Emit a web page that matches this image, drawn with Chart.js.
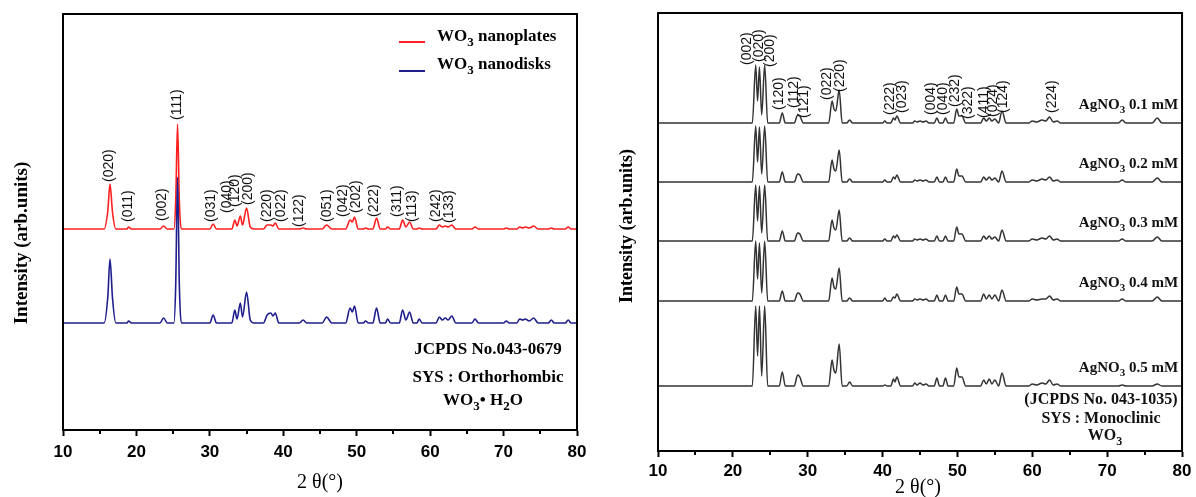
<!DOCTYPE html>
<html lang="en">
<head>
  <meta charset="UTF-8">
  <title>XRD patterns of WO3</title>
  <script src="https://cdn.jsdelivr.net/npm/chart.js"></script>
  <style>
    body { margin: 0; background: #fff; width: 1196px; height: 497px; position: relative; overflow: hidden; }
    canvas { position: absolute; top: 0; }
  </style>
</head>
<body>
  <canvas id="left" width="600" height="497" style="left:0"></canvas>
  <canvas id="right" width="596" height="497" style="left:600px"></canvas>

  <script>
    // ---- left panel: WO3.H2O nanoplates / nanodisks ----
    const leftTheta = [10, 15.6, 16.1, 16.4, 16.75, 17.2, 18.7, 18.95, 19.3, 23.2, 23.7, 24.2,
      25.1, 25.35, 25.6, 25.85, 26.2, 30.0, 30.45, 30.9, 33.0, 33.4, 33.7, 34.15, 34.45, 35.0, 35.5, 36.0,
      37.3, 37.8, 38.3, 38.6, 38.9, 39.4, 42.2, 42.7, 43.2, 45.3, 45.9, 46.6, 48.5, 49.1, 49.4, 49.7, 50.2,
      50.9, 51.2, 51.6, 52.2, 52.7, 53.2, 53.9, 54.2, 54.6, 55.8, 56.25, 56.7, 57.2, 57.7, 58.2, 58.5, 58.9,
      60.8, 61.25, 61.65, 62.05, 62.45, 62.95, 63.5, 65.7, 66.1, 66.6, 70.0, 70.35, 70.8,
      71.8, 72.2, 72.6, 72.95, 73.5, 74.1, 74.7, 76.1, 76.5, 76.9, 78.4, 78.8, 79.2, 80];
    const nanoplates = [0, 0, 18, 45, 16, 0, 0, 2, 0, 0, 3, 0, 0, 28, 105, 26, 0, 0, 5, 0,
      0, 9, 3, 13, 4, 21, 2, 0, 0, 4, 4, 3, 6, 0, 0, 1, 0, 0, 4, 0, 0, 9, 7, 12, 0,
      0, 1, 0, 0, 11, 0, 0, 2, 0, 0, 9, 2, 7, 0, 0, 1, 0, 0, 4, 2, 3, 2, 4, 0, 0, 2, 0, 0, 1, 0,
      0, 2, 1, 2, 1, 3, 0, 0, 1, 0, 0, 2, 0, 0];
    const nanodisks = [0, 0, 26, 64, 24, 0, 0, 2, 0, 0, 5, 0, 0, 38, 146, 36, 0, 0, 8, 0,
      0, 13, 4, 20, 6, 31, 3, 0, 0, 8, 10, 7, 10, 0, 0, 3, 0, 0, 6, 0, 0, 15, 11, 17, 0,
      0, 2, 0, 0, 15, 0, 0, 4, 0, 0, 13, 3, 11, 0, 0, 4, 0, 0, 6, 3, 5, 3, 7, 0, 0, 4, 0, 0, 2, 0,
      0, 4, 3, 4, 2, 5, 0, 0, 3, 0, 0, 3, 0, 0];
    const leftOffsets = [201, 107];
    const leftHkl = ['(020)', '(011)', '(002)', '(111)', '(031)', '(040)', '(120)', '(200)', '(220)', '(022)',
      '(122)', '(051)', '(042)', '(202)', '(222)', '(311)', '(113)', '(242)', '(133)'];
    const leftHklPos = [16.33, 18.93, 23.48, 25.48, 30.16, 32.33, 33.49, 35.19, 37.78, 39.69,
      42.22, 46.02, 48.2, 49.86, 52.35, 55.49, 57.53, 60.8, 62.65];
    const leftHklBase = [248, 208, 209, 310, 208, 217, 223, 225, 208, 208,
      203, 208, 213, 217, 213, 213, 208, 208, 207];

    // ---- right panel: monoclinic WO3 with AgNO3 ----
    const rightTheta = [10, 22.6, 23.05, 23.3, 23.55, 23.85, 24.25, 24.65, 26.2, 26.6, 27.0,
      28.2, 28.65, 28.95, 29.4, 32.8, 33.25, 33.5, 33.75, 34.2, 34.6, 35.2, 35.6, 36.0,
      40.0, 40.3, 40.6, 41.1, 41.45, 41.65, 41.9, 42.4, 44.0, 44.3, 44.6, 45.0, 45.4, 45.8, 46.2,
      46.9, 47.25, 47.6, 48.05, 48.4, 48.75, 49.5, 49.9, 50.2, 50.6, 51.1,
      53.1, 53.5, 53.85, 54.25, 54.6, 55.0, 55.5, 55.95, 56.5,
      59.5, 60.0, 60.6, 61.3, 61.8, 62.3, 62.8, 63.3, 63.8, 71.5, 72.0, 72.5, 76.0, 76.7, 77.3, 80];
    const ag01 = [0, 0, 58, 22, 56, 8, 58, 0, 0, 10, 0, 0, 8, 7, 0, 0, 22, 14, 12, 33, 0, 0, 3, 0,
      0, 2, 0, 0, 5, 3, 7, 0, 0, 2, 1, 2, 1, 2, 0, 0, 5, 0, 0, 5, 0, 0, 14, 7, 7, 0,
      0, 5, 2, 5, 2, 4, 0, 12, 0, 0, 2, 1, 3, 2, 6, 1, 2, 0, 0, 3, 0, 0, 5, 0, 0];
    const ag02 = [0, 0, 56, 20, 55, 8, 56, 0, 0, 10, 0, 0, 8, 7, 0, 0, 22, 13, 11, 32, 0, 0, 3, 0,
      0, 2, 0, 0, 5, 3, 7, 0, 0, 2, 1, 2, 1, 2, 0, 0, 5, 0, 0, 5, 0, 0, 13, 6, 6, 0,
      0, 5, 2, 5, 2, 4, 0, 11, 0, 0, 2, 1, 3, 2, 5, 1, 2, 0, 0, 2, 0, 0, 4, 0, 0];
    const ag03 = [0, 0, 56, 20, 55, 8, 56, 0, 0, 10, 0, 0, 8, 7, 0, 0, 21, 13, 11, 31, 0, 0, 3, 0,
      0, 2, 0, 0, 5, 3, 6, 0, 0, 2, 1, 2, 1, 2, 0, 0, 5, 0, 0, 5, 0, 0, 14, 7, 7, 0,
      0, 5, 2, 5, 2, 4, 0, 11, 0, 0, 2, 1, 3, 2, 5, 1, 2, 0, 0, 2, 0, 0, 4, 0, 0];
    const ag04 = [0, 0, 60, 22, 58, 8, 60, 0, 0, 10, 0, 0, 8, 7, 0, 0, 23, 14, 12, 33, 0, 0, 3, 0,
      0, 3, 0, 0, 4, 3, 7, 0, 0, 2, 1, 2, 1, 2, 0, 0, 6, 0, 0, 6, 0, 0, 14, 7, 7, 0,
      0, 7, 2, 6, 2, 6, 0, 11, 0, 0, 2, 1, 2, 2, 5, 1, 2, 0, 0, 2, 0, 0, 4, 0, 0];
    const ag05 = [0, 0, 80, 30, 80, 10, 80, 0, 0, 14, 0, 0, 11, 9, 0, 0, 26, 16, 13, 42, 0, 0, 4, 0,
      0, 1, 0, 0, 7, 4, 9, 0, 0, 3, 1, 3, 1, 2, 0, 0, 8, 0, 0, 8, 0, 0, 18, 9, 9, 0,
      0, 6, 2, 7, 2, 6, 0, 13, 0, 0, 2, 1, 3, 2, 6, 1, 2, 0, 0, 1, 0, 0, 2, 0, 0];
    const agSeries = [ag01, ag02, ag03, ag04, ag05];
    const agNames = [' 0.1 mM', ' 0.2 mM', ' 0.3 mM', ' 0.4 mM', ' 0.5 mM'];
    const rightOffsets = [328, 269, 210, 150, 65];
    const rightHkl = ['(002)', '(020)', '(200)', '(120)', '(112)', '(121)', '(022)', '(220)', '(222)',
      '(023)', '(004)', '(040)', '(232)', '(322)', '(411)', '(024)', '(124)', '(224)'];
    const rightHklPos = [21.95, 23.5, 24.95, 26.13, 28.13, 29.47, 32.53, 34.27, 41.07,
      42.6, 46.53, 48.13, 49.73, 51.47, 53.6, 54.8, 56.13, 62.63];
    const rightHklBase = [386, 389, 384, 341, 343, 333, 351, 359, 336,
      338, 336, 336, 344, 332, 333, 334, 338, 338];

    const serif = '"Liberation Serif", "Times New Roman", serif';
    const sans = '"Liberation Sans", Arial, sans-serif';

    function series(theta, counts, offset) {
      return theta.map((t, i) => ({ x: t, y: offset + counts[i] }));
    }

    // text with subscripts: parts = [[text, isSub], ...]
    function rich(ctx, parts, x, y, size, align, weight) {
      const w = weight || 'bold';
      const fonts = parts.map(p => w + ' ' + (p[1] ? Math.round(size * 0.75) : size) + 'px ' + serif);
      const widths = parts.map((p, i) => { ctx.font = fonts[i]; return ctx.measureText(p[0]).width; });
      const total = widths.reduce((a, b) => a + b, 0);
      let cx = align === 'right' ? x - total : align === 'center' ? x - total / 2 : x;
      ctx.textAlign = 'left';
      ctx.textBaseline = 'middle';
      parts.forEach((p, i) => {
        ctx.font = fonts[i];
        ctx.fillText(p[0], cx, p[1] ? y + size * 0.35 : y);
        cx += widths[i];
      });
    }

    function vtext(ctx, text, x, y, font) {
      ctx.save();
      ctx.translate(x, y);
      ctx.rotate(-Math.PI / 2);
      ctx.font = font;
      ctx.textAlign = 'center';
      ctx.textBaseline = 'middle';
      ctx.fillText(text, 0, 0);
      ctx.restore();
    }

    function hklLabels(chart, ctx, names, pos, base, size) {
      const xs = chart.scales.x, ys = chart.scales.y;
      ctx.font = size + 'px ' + sans;
      ctx.fillStyle = '#111';
      ctx.textAlign = 'left';
      ctx.textBaseline = 'middle';
      names.forEach((n, i) => {
        ctx.save();
        ctx.translate(xs.getPixelForValue(pos[i]), ys.getPixelForValue(base[i]));
        ctx.rotate(-Math.PI / 2);
        ctx.fillText(n, 0, 0);
        ctx.restore();
      });
    }

    // box + short minor ticks
    function frame(chart, ctx) {
      const a = chart.chartArea, xs = chart.scales.x;
      ctx.strokeStyle = '#000';
      ctx.lineWidth = 2;
      ctx.strokeRect(a.left, a.top, a.right - a.left, a.bottom - a.top);
      for (let v = 15; v < 80; v += 10) {
        const px = Math.round(xs.getPixelForValue(v));
        ctx.beginPath();
        ctx.moveTo(px, a.bottom);
        ctx.lineTo(px, a.bottom + 4);
        ctx.stroke();
      }
    }

    function axes(yMax, yWidth, xHeight, tickPad) {
      return {
        x: {
          type: 'linear', min: 10, max: 80,
          afterFit: s => { s.height = xHeight; },
          ticks: {
            stepSize: 5, autoSkip: false, maxRotation: 0, padding: tickPad, color: '#000',
            font: { family: sans, size: 17, weight: 'bold' },
            callback: v => (v % 10 === 0 ? v : '')
          },
          grid: {
            drawOnChartArea: false, tickLength: 6, tickWidth: 2,
            tickColor: c => (c.tick && c.tick.value % 10 !== 0 ? 'rgba(0,0,0,0)' : '#000')
          },
          border: { color: '#000', width: 2 }
        },
        y: {
          type: 'linear', min: 0, max: yMax,
          afterFit: s => { s.width = yWidth; },
          ticks: { display: false },
          grid: { display: false },
          border: { color: '#000', width: 2 }
        }
      };
    }

    const common = {
      responsive: false,
      animation: false,
      plugins: { legend: { display: false }, tooltip: { enabled: false } },
      elements: { point: { radius: 0 }, line: { cubicInterpolationMode: 'monotone' } }
    };

    // left chart
    new Chart(document.getElementById('left'), {
      type: 'line',
      data: {
        datasets: [
          { data: series(leftTheta, nanoplates, leftOffsets[0]), borderColor: '#ff1f1f', borderWidth: 1.6, order: 1 },
          { data: series(leftTheta, nanodisks, leftOffsets[1]), borderColor: '#1e1e8c', borderWidth: 1.6, order: 0 }
        ]
      },
      options: Object.assign({}, common, {
        layout: { padding: { top: 14, right: 23, left: 0, bottom: 0 } },
        scales: axes(416, 63, 67, 6.5)
      }),
      plugins: [{
        id: 'leftDecor',
        afterDraw(chart) {
          const ctx = chart.ctx;
          ctx.save();
          frame(chart, ctx);
          hklLabels(chart, ctx, leftHkl, leftHklPos, leftHklBase, 14);
          ctx.fillStyle = '#000';
          // legend
          ctx.lineWidth = 2;
          ctx.strokeStyle = '#ff1f1f';
          ctx.beginPath(); ctx.moveTo(399, 42); ctx.lineTo(425, 42); ctx.stroke();
          ctx.strokeStyle = '#1e1e8c';
          ctx.beginPath(); ctx.moveTo(399, 71); ctx.lineTo(425, 71); ctx.stroke();
          rich(ctx, [['WO', 0], ['3', 1], [' nanoplates', 0]], 437, 37, 17, 'left');
          rich(ctx, [['WO', 0], ['3', 1], [' nanodisks', 0]], 437, 65, 17, 'left');
          // notes
          rich(ctx, [['JCPDS No.043-0679', 0]], 488, 350, 17, 'center');
          rich(ctx, [['SYS : Orthorhombic', 0]], 488, 378, 17, 'center');
          rich(ctx, [['WO', 0], ['3', 1], ['\u2022 H', 0], ['2', 1], ['O', 0]], 483, 401, 17, 'center');
          // axis titles
          ctx.fillStyle = '#000';
          vtext(ctx, 'Intensity (arb.units)', 22, 243, 'bold 19px ' + serif);
          ctx.font = '20px ' + serif;
          ctx.textAlign = 'center';
          ctx.textBaseline = 'middle';
          ctx.fillText('2 \u03b8(\u00b0)', 320, 483);
          ctx.restore();
        }
      }]
    });

    // right chart
    new Chart(document.getElementById('right'), {
      type: 'line',
      data: {
        datasets: agSeries.map((s, i) => ({
          data: series(rightTheta, s, rightOffsets[i]), borderColor: '#333', borderWidth: 1.5
        }))
      },
      options: Object.assign({}, common, {
        layout: { padding: { top: 13, right: 13, left: 0, bottom: 0 } },
        scales: axes(438, 58, 46, 4.5)
      }),
      plugins: [{
        id: 'rightDecor',
        afterDraw(chart) {
          const ctx = chart.ctx, ys = chart.scales.y, a = chart.chartArea;
          ctx.save();
          frame(chart, ctx);
          hklLabels(chart, ctx, rightHkl, rightHklPos, rightHklBase, 14);
          ctx.fillStyle = '#111';
          agNames.forEach((n, i) => {
            rich(ctx, [['AgNO', 0], ['3', 1], [n, 0]], a.right - 4, ys.getPixelForValue(rightOffsets[i] + 18), 15, 'right');
          });
          rich(ctx, [['(JCPDS No. 043-1035)', 0]], 501, 400, 16, 'center');
          rich(ctx, [['SYS : Monoclinic', 0]], 501, 419, 16, 'center');
          rich(ctx, [['WO', 0], ['3', 1]], 505, 436, 16, 'center');
          ctx.fillStyle = '#000';
          vtext(ctx, 'Intensity (arb.units)', 27, 226, 'bold 18px ' + serif);
          ctx.font = '20px ' + serif;
          ctx.textAlign = 'center';
          ctx.textBaseline = 'middle';
          ctx.fillText('2 \u03b8(\u00b0)', 318, 488);
          ctx.restore();
        }
      }]
    });
  </script>
</body>
</html>
